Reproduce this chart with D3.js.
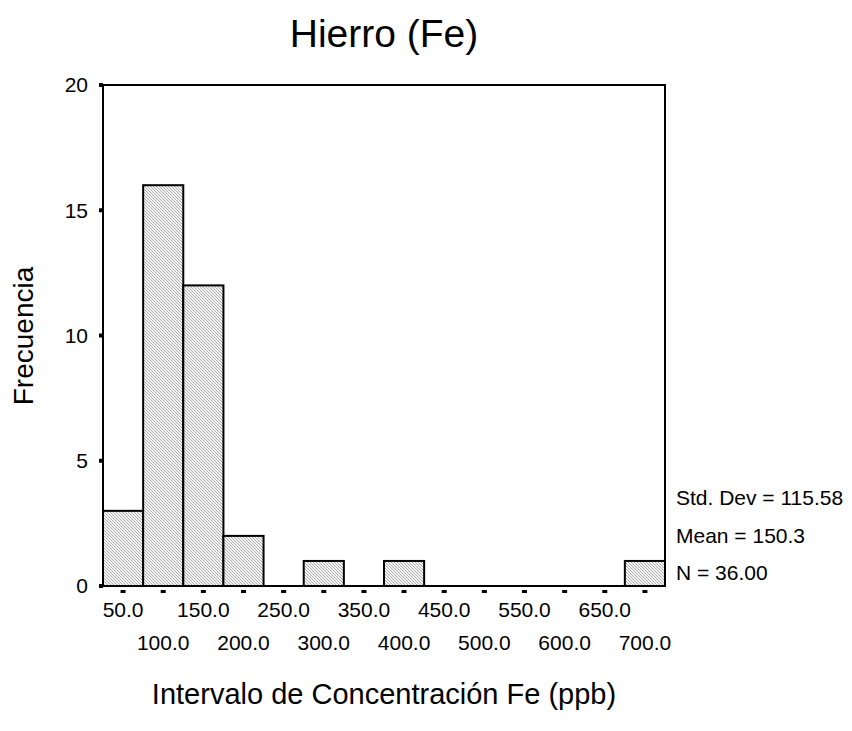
<!DOCTYPE html>
<html>
<head>
<meta charset="utf-8">
<script src="https://cdn.jsdelivr.net/npm/d3@7"></script>
<style>
	body { margin: 0; background: #fff; }
	text { font-family: Arial, "Liberation Sans", sans-serif; fill: #000; }
</style>
</head>
<body>
<script>
/* Data. */
let binCenters = [50, 100, 150, 200, 250, 300, 350, 400, 450, 500, 550, 600, 650, 700];
let counts = [3, 16, 12, 2, 0, 1, 0, 1, 0, 0, 0, 0, 0, 1];
let yTicks = [0, 5, 10, 15, 20];
let statLines = ['Std. Dev = 115.58', 'Mean = 150.3', 'N = 36.00'];
let binWidth = 50;

/**
 * Draws the histogram.
 */
function main() {
	const margin = {top: 85, left: 103};
	const width = 562;
	const height = 501;

	let svg = d3.select('body').append('svg')
		.attr('width', 852)
		.attr('height', 731);

	/* Hatch pattern. */
	let pattern = svg.append('defs').append('pattern')
		.attr('id', 'hatch')
		.attr('patternUnits', 'userSpaceOnUse')
		.attr('width', 3)
		.attr('height', 3);
	pattern.append('rect')
		.attr('width', 3).attr('height', 3)
		.attr('fill', '#f4f4f4');
	pattern.append('path')
		.attr('d', 'M0,0 L3,3 M-1,2 L1,4 M2,-1 L4,1')
		.attr('stroke', '#9a9a9a')
		.attr('stroke-width', 0.8);

	let xScale = d3.scaleLinear()
		.domain([binCenters[0] - binWidth / 2, binCenters[binCenters.length - 1] + binWidth / 2])
		.range([0, width]);
	let yScale = d3.scaleLinear()
		.domain([0, 20])
		.range([height, 0]);

	let g = svg.append('g')
		.attr('transform', 'translate(' + margin.left + ',' + margin.top + ')');

	/* Bars. */
	g.selectAll('.bar')
			.data(counts.map(function(c, i) { return {x: binCenters[i], c: c}; })
				.filter(function(d) { return d.c > 0; }))
		.enter().append('rect')
			.attr('class', 'bar')
			.attr('x', function(d) { return xScale(d.x - binWidth / 2); })
			.attr('y', function(d) { return yScale(d.c); })
			.attr('width', function() { return xScale(binWidth) - xScale(0); })
			.attr('height', function(d) { return height - yScale(d.c); })
			.attr('fill', 'url(#hatch)')
			.attr('stroke', '#000')
			.attr('stroke-width', 2);

	/* Frame. */
	g.append('rect')
		.attr('width', width)
		.attr('height', height)
		.attr('fill', 'none')
		.attr('stroke', '#000')
		.attr('stroke-width', 2);

	/* Y ticks. */
	g.selectAll('.ytick')
			.data(yTicks)
		.enter().append('rect')
			.attr('class', 'ytick')
			.attr('x', -4)
			.attr('y', function(d) { return yScale(d) - 2; })
			.attr('width', 4)
			.attr('height', 4)
			.attr('fill', '#000');
	g.selectAll('.ylabel')
			.data(yTicks)
		.enter().append('text')
			.attr('class', 'ylabel')
			.attr('x', -15)
			.attr('y', function(d) { return yScale(d); })
			.attr('dy', '0.35em')
			.attr('text-anchor', 'end')
			.style('font-size', '21px')
			.text(function(d) { return d; });

	/* X ticks. */
	g.selectAll('.xtick')
			.data(binCenters)
		.enter().append('rect')
			.attr('class', 'xtick')
			.attr('x', function(d) { return xScale(d) - 2.5; })
			.attr('y', height + 4)
			.attr('width', 5)
			.attr('height', 3)
			.attr('fill', '#000');
	g.selectAll('.xlabel')
			.data(binCenters)
		.enter().append('text')
			.attr('class', 'xlabel')
			.attr('x', function(d) { return xScale(d); })
			.attr('y', function(_, i) { return height + (i % 2 === 0 ? 31 : 64); })
			.attr('text-anchor', 'middle')
			.style('font-size', '21px')
			.text(function(d) { return d.toFixed(1); });

	/* Stats. */
	svg.selectAll('.stat')
			.data(statLines)
		.enter().append('text')
			.attr('class', 'stat')
			.attr('x', 676)
			.attr('y', function(_, i) { return 505 + i * 37.5; })
			.style('font-size', '21px')
			.text(function(d) { return d; });

	/* Titles. */
	svg.append('text')
		.attr('x', 384)
		.attr('y', 47)
		.attr('text-anchor', 'middle')
		.style('font-size', '39px')
		.text('Hierro (Fe)');
	svg.append('text')
		.attr('x', 384)
		.attr('y', 704)
		.attr('text-anchor', 'middle')
		.style('font-size', '29px')
		.text('Intervalo de Concentración Fe (ppb)');
	svg.append('text')
		.attr('transform', 'translate(33,336) rotate(-90)')
		.attr('text-anchor', 'middle')
		.style('font-size', '28px')
		.text('Frecuencia');
}

window.onload = function() {
	main();
};
</script>
</body>
</html>
